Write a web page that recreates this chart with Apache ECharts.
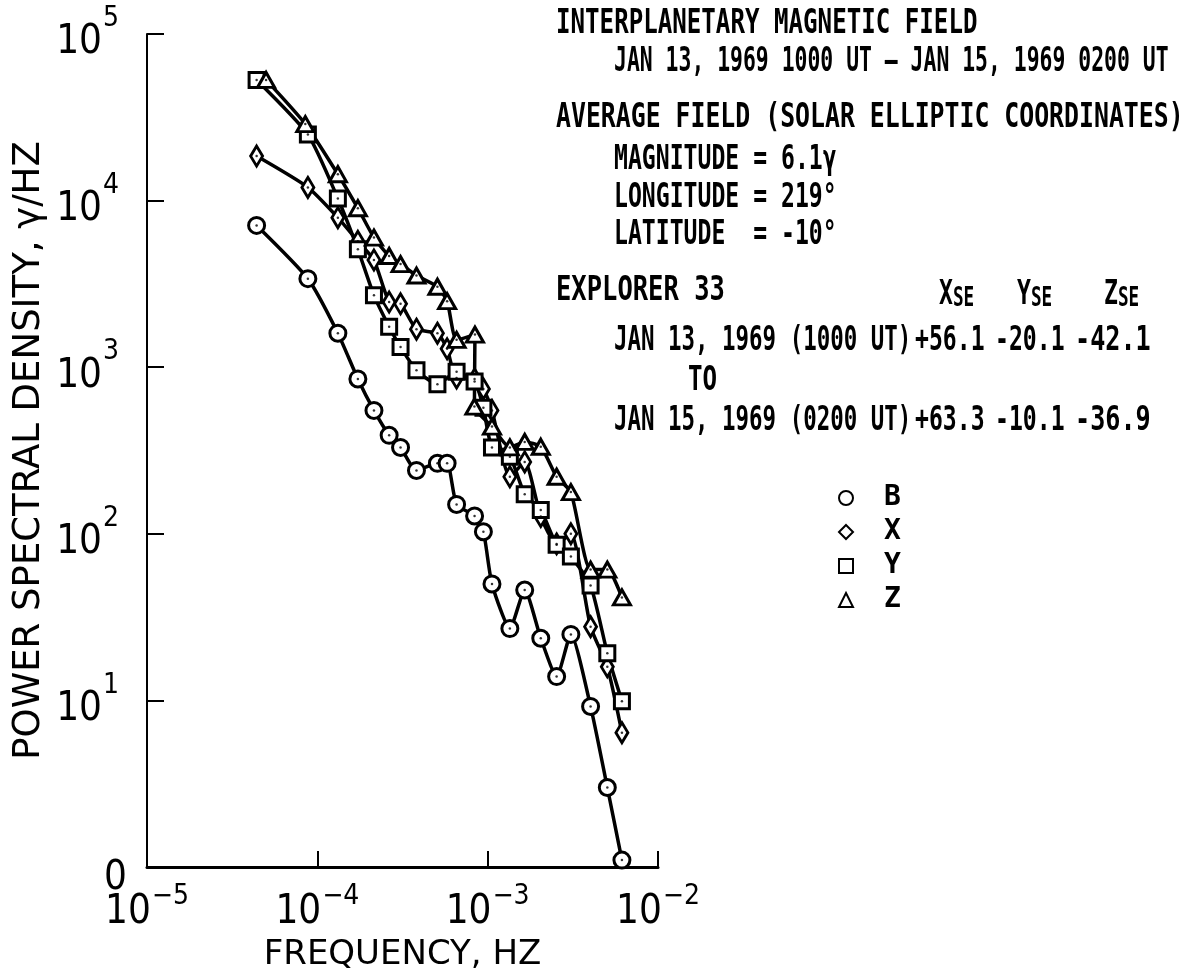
<!DOCTYPE html>
<html>
<head>
<meta charset="utf-8">
<script src="https://cdn.jsdelivr.net/npm/echarts@6/dist/echarts.min.js"></script>
<style>
  html, body { margin: 0; padding: 0; background: #fff; }
  #chart { width: 1186px; height: 978px; }
</style>
</head>
<body>
<div id="chart"></div>
<script>
// frequencies (Hz) of the spectral estimates
const freq = [4.4e-5, 8.8e-5, 1.32e-4, 1.73e-4, 2.15e-4, 2.64e-4, 3.08e-4, 3.82e-4, 5.07e-4, 5.78e-4, 6.57e-4,
  8.38e-4, 9.44e-4, 1.06e-3, 1.35e-3, 1.65e-3, 2.05e-3, 2.54e-3, 3.08e-3, 4.02e-3, 5.04e-3, 6.14e-3];
const freqZ = [5.0e-5, 8.5e-5, 1.32e-4, 1.73e-4, 2.15e-4, 2.64e-4, 3.08e-4, 3.82e-4, 5.07e-4, 5.78e-4, 6.57e-4,
  8.42e-4, 8.36e-4, 1.06e-3, 1.35e-3, 1.65e-3, 2.05e-3, 2.54e-3, 3.08e-3, 4.02e-3, 5.04e-3, 6.14e-3];

// power spectral density, gamma^2/Hz
const psdB = [7100, 3400, 1600, 850, 550, 390, 330, 240, 265, 265, 150, 128, 103, 50, 27, 46, 23.6, 13.9, 24.9, 9.2, 3.0, 1.1];
const psdX = [18500, 12000, 7900, 5700, 4400, 2460, 2400, 1690, 1600, 1290, 860, 850, 740, 550, 220, 270, 127, 87, 100, 27.7, 15.9, 6.4];
const psdY = [53000, 24900, 10300, 5100, 2700, 1750, 1320, 960, 790, null, 940, 820, 570, 330, 290, 173, 139, 86, 73, 49, 19.2, 9.9];
const psdZ = [53000, 28800, 14400, 9000, 6000, 4650, 4160, 3550, 3040, 2490, 1460, 1570, 580, 440, 330, 356, 333, 220, 178, 61, 61, 41.5];

const names = ['B', 'X', 'Y', 'Z'];
const symbols = ['circle', 'diamond', 'rect', 'triangle'];
const symbolSizes = [16, [12, 20], 15, [17, 15]];

const FONT = "'DejaVu Sans', sans-serif";
const NARROW = "'Liberation Sans Narrow', 'DejaVu Sans Condensed', sans-serif";
const MONO = "'DejaVu Sans Mono', monospace";

function pairs(xs, ys) {
  return xs.map((f, i) => [f, ys[i]]).filter(p => p[1] != null);
}

const dataSets = [pairs(freq, psdB), pairs(freq, psdX), pairs(freq, psdY), pairs(freqZ, psdZ)];

function makeRich(raise, right) {
  return {
    b: { fontFamily: NARROW, fontSize: 40, color: '#000', verticalAlign: 'bottom' },
    e: { fontFamily: NARROW, fontSize: 28, color: '#000', verticalAlign: 'bottom', padding: [0, right, raise, 1] },
    z: { fontFamily: NARROW, fontSize: 40, color: '#000', verticalAlign: 'bottom', padding: [24, 0, 0, 0] }
  };
}

function expLabel(v) {
  const e = Math.round(Math.log10(v));
  if (e === 0) return '{z|0}';
  return '{b|10}{e|' + String(e).replace('-', '\u2212') + '}';
}

const series = dataSets.map((d, i) => ({
  name: names[i],
  type: 'line',
  data: d,
  smooth: 0.2,
  symbol: symbols[i],
  symbolSize: symbolSizes[i],
  showAllSymbol: true,
  lineStyle: { color: '#000', width: 3.5 },
  itemStyle: { color: '#fff', borderColor: '#000', borderWidth: 3 },
  z: 3
}));

// small centre dots inside each marker
series.push({
  name: 'dots',
  type: 'scatter',
  data: [].concat(...dataSets),
  symbol: 'circle',
  symbolSize: 2.5,
  itemStyle: { color: '#000' },
  silent: true,
  z: 6
});

// annotation block on the right (lettering is narrow, so squeeze a mono face)
const txt = (x, y, s, sx) => ({
  type: 'text', x: x, y: y, scaleX: sx || 0.68,
  style: { text: s, font: 'bold 34px ' + MONO, fill: '#000', textVerticalAlign: 'middle' }
});

const sub = (x, y, main) => ({
  type: 'text', x: x, y: y, scaleX: 0.68,
  style: {
    text: '{m|' + main + '}{s|SE}',
    fill: '#000', textVerticalAlign: 'middle',
    rich: {
      m: { font: 'bold 34px ' + MONO, verticalAlign: 'bottom' },
      s: { font: 'bold 26px ' + MONO, verticalAlign: 'bottom' }
    }
  }
});

const graphic = [
  txt(556, 24, 'INTERPLANETARY MAGNETIC FIELD', 0.71),
  txt(614, 62, 'JAN 13, 1969 1000 UT \u2013 JAN 15, 1969 0200 UT', 0.63),
  txt(556, 118, 'AVERAGE FIELD (SOLAR ELLIPTIC COORDINATES)', 0.73),
  txt(614, 160, 'MAGNITUDE = 6.1\u03b3'),
  txt(614, 198, 'LONGITUDE = 219\u00b0'),
  txt(614, 235, 'LATITUDE  = -10\u00b0'),
  txt(556, 291, 'EXPLORER 33', 0.75),
  sub(939, 295, 'X'),
  sub(1017, 295, 'Y'),
  sub(1104, 295, 'Z'),
  txt(614, 341, 'JAN 13, 1969 (1000 UT)', 0.66),
  txt(915, 341, '+56.1'),
  txt(995, 341, '-20.1'),
  txt(1075, 341, '-42.1', 0.74),
  txt(688, 381, 'TO', 0.71),
  txt(614, 421, 'JAN 15, 1969 (0200 UT)', 0.66),
  txt(915, 421, '+63.3'),
  txt(995, 421, '-10.1'),
  txt(1075, 421, '-36.9', 0.74)
];

const option = {
  backgroundColor: '#fff',
  animation: false,
  grid: { left: 147, right: 528, top: 34, bottom: 111, outerBoundsMode: 'none', containLabel: false },
  xAxis: {
    type: 'log',
    logBase: 10,
    min: 1e-5,
    max: 1e-2,
    axisLine: { lineStyle: { color: '#000', width: 3 } },
    axisTick: { inside: true, length: 16, lineStyle: { color: '#000', width: 2 } },
    minorTick: { show: false },
    splitLine: { show: false },
    axisLabel: { formatter: expLabel, rich: makeRich(22, 0), margin: 16, showMinLabel: true, showMaxLabel: true },
    name: 'FREQUENCY, HZ',
    nameLocation: 'middle',
    nameGap: 70,
    nameTextStyle: { fontFamily: FONT, fontSize: 34, color: '#000' }
  },
  yAxis: {
    type: 'log',
    logBase: 10,
    min: 1,
    max: 1e5,
    axisLine: { lineStyle: { color: '#000', width: 2 } },
    axisTick: { inside: true, length: 17, lineStyle: { color: '#000', width: 2 } },
    minorTick: { show: false },
    splitLine: { show: false },
    axisLabel: { formatter: expLabel, rich: makeRich(30, 8), margin: 20, showMinLabel: true, showMaxLabel: true },
    name: 'POWER SPECTRAL DENSITY, \u03b3/HZ',
    nameLocation: 'middle',
    nameGap: 99,
    nameTextStyle: { fontFamily: FONT, fontSize: 37, color: '#000' }
  },
  legend: {
    orient: 'vertical',
    left: 833,
    top: 479,
    itemGap: 6,
    itemWidth: 14,
    itemHeight: 14,
    data: names.map((n, i) => ({ name: n, icon: symbols[i] })),
    itemStyle: { color: '#fff', borderColor: '#000', borderWidth: 2 },
    textStyle: { fontFamily: MONO, fontWeight: 'bold', fontSize: 28, color: '#000', padding: [0, 0, 0, 26] }
  },
  graphic: graphic,
  series: series
};

const myChart = echarts.init(document.getElementById('chart'));
myChart.setOption(option);
</script>
</body>
</html>
